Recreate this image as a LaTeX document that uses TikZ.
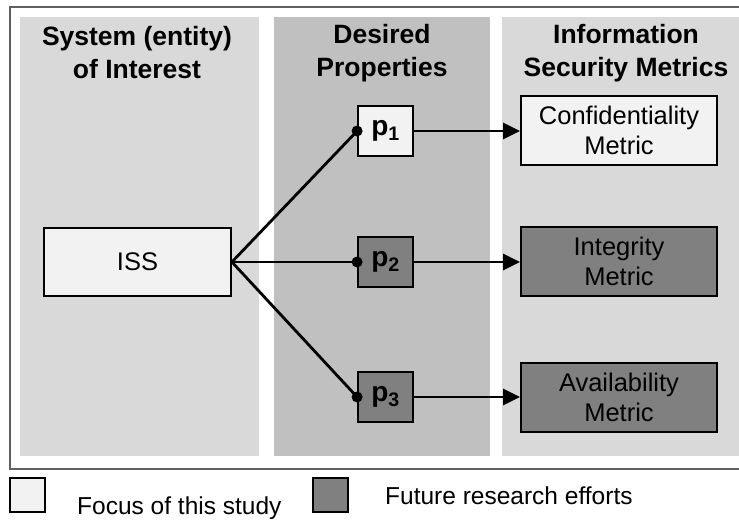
\documentclass[tikz,border=0pt]{standalone}
\usepackage{fontspec}
\setmainfont{Liberation Sans}
\usetikzlibrary{arrows.meta}
\definecolor{panellight}{HTML}{D9D9D9}
\definecolor{panelmid}{HTML}{C0C0C0}
\definecolor{boxlight}{HTML}{F2F2F2}
\definecolor{boxdark}{HTML}{808080}
\definecolor{framegray}{HTML}{606060}
\begin{document}
\begin{tikzpicture}[x=1pt,y=-1pt,
  header/.style={align=center,font=\fontsize{26.5}{33}\selectfont\bfseries},
  bodytext/.style={font=\fontsize{25.5}{30}\selectfont},
  lightbox/.style={draw=black,line width=1.8pt,fill=boxlight,inner sep=0pt},
  darkbox/.style={draw=black,line width=1.8pt,fill=boxdark,inner sep=0pt},
  metricbox/.style={align=center,bodytext,minimum width=196pt,minimum height=69pt},
  propbox/.style={minimum width=55pt,minimum height=50pt,font=\fontsize{28}{30}\selectfont\bfseries},
  link/.style={line width=2.8pt},
  flow/.style={line width=2.8pt,-{Triangle[length=17pt,width=16pt]}},
  dot/.style={circle,fill=black,inner sep=0pt,minimum size=11pt}]
\useasboundingbox (0,0) rectangle (739,520);
\begin{scope}
\clip (0,0) rectangle (739,520);
% outer frame
\draw[framegray,line width=2.2pt] (10,7) rectangle (760,469);
% column panels
\fill[panellight] (20,17) rectangle (259,456);
\fill[panelmid] (274,17) rectangle (490,456);
\fill[panellight] (502,17) rectangle (760,456);
\end{scope}
% column headings
\node[header] (h1) at (137,53) {System (entity)\\of Interest};
\node[header] (h2) at (382,53) {Desired\\Properties};
\node[header] (h3) at (626,53) {Information\\Security Metrics};
% system box
\node[lightbox,bodytext,minimum width=187pt,minimum height=68pt] (iss) at (137.5,262) {ISS};
% property boxes
\node[lightbox,propbox] (p1) at (385.5,131) {p\textsubscript{1}};
\node[darkbox,propbox] (p2) at (385.5,262) {p\textsubscript{2}};
\node[darkbox,propbox] (p3) at (385.5,397) {p\textsubscript{3}};
% metric boxes
\node[lightbox,metricbox] (m1) at (619,130.5) {Confidentiality\\Metric};
\node[darkbox,metricbox] (m2) at (619,261.5) {Integrity\\Metric};
\node[darkbox,metricbox] (m3) at (619,397.5) {Availability\\Metric};
% connectors
\draw[link] (iss.east) -- (p1.west);
\draw[link] (iss.east) -- (p2.west);
\draw[link] (iss.east) -- (p3.west);
\node[dot] (d1) at (p1.west) {};
\node[dot] (d2) at (p2.west) {};
\node[dot] (d3) at (p3.west) {};
\draw[flow] (p1.east) -- (m1.west |- p1.east);
\draw[flow] (p2.east) -- (m2.west |- p2.east);
\draw[flow] (p3.east) -- (m3.west |- p3.east);
% legend
\node[lightbox,minimum width=35pt,minimum height=34pt] (l1) at (27.5,495) {};
\node[darkbox,minimum width=35pt,minimum height=34pt] (l2) at (330.5,495) {};
\node[font=\fontsize{24.5}{28}\selectfont,anchor=base west,inner sep=0pt] (t1) at (77,514.5) {Focus of this study};
\node[font=\fontsize{24.5}{28}\selectfont,anchor=base west,inner sep=0pt] (t2) at (385,504) {Future research efforts};
\end{tikzpicture}
\end{document}
